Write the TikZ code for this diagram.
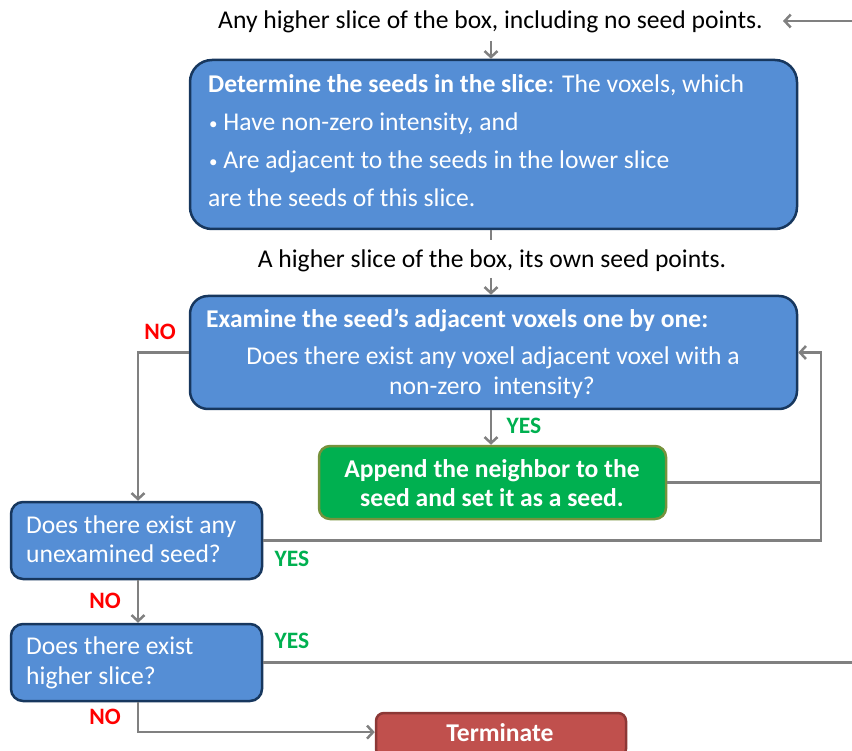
\documentclass[tikz,border=0pt]{standalone}
\usepackage{fontspec}
\setmainfont{Carlito}
\usetikzlibrary{arrows.meta}
\definecolor{bluefill}{RGB}{85,142,213}
\definecolor{bluebd}{RGB}{23,55,94}
\definecolor{greenfill}{RGB}{0,176,80}
\definecolor{greenbd}{RGB}{118,146,60}
\definecolor{redfill}{RGB}{192,80,77}
\definecolor{redbd}{RGB}{140,56,54}
\definecolor{conn}{RGB}{128,128,128}
\definecolor{nored}{RGB}{255,0,0}
\definecolor{yesgreen}{RGB}{0,176,80}
\newcommand{\smbullet}{{\fontsize{17}{17}\selectfont\raisebox{1pt}{•}}}
\begin{document}
\begin{tikzpicture}[x=1pt,y=-1pt,
  txt/.style={inner sep=0pt, font=\fontsize{25.6}{30}\selectfont},
  wtxt/.style={txt, text=white},
  boxstyle/.style={draw=bluebd, fill=bluefill, line width=2.5pt, inner sep=0pt},
  arr/.style={draw=conn, line width=2.5pt, -{Straight Barb[length=6pt,width=13pt]}},
  ln/.style={draw=conn, line width=2.5pt},
  nolbl/.style={inner sep=0pt, text=nored, font=\fontsize{23.5}{26}\selectfont\bfseries},
  yeslbl/.style={inner sep=0pt, text=yesgreen, font=\fontsize{23.5}{26}\selectfont\bfseries}
]
\useasboundingbox (0,0) rectangle (852,751);
\clip (0,0) rectangle (852,751);

% boxes
\node[boxstyle, rounded corners=22pt, minimum width=607pt, minimum height=169pt] (box1) at (493.5,144.5) {};
\node[boxstyle, rounded corners=18pt, minimum width=607pt, minimum height=113pt] (box2) at (493.5,352.5) {};
\node[draw=greenbd, fill=greenfill, line width=2.5pt, inner sep=0pt, rounded corners=11pt, minimum width=347pt, minimum height=73pt] (green) at (492.5,482.5) {};
\node[boxstyle, rounded corners=12pt, minimum width=251pt, minimum height=77pt] (box3) at (136.5,540.5) {};
\node[boxstyle, rounded corners=12pt, minimum width=251pt, minimum height=77pt] (box4) at (136.5,662.5) {};
\node[draw=redbd, fill=redfill, line width=2.5pt, inner sep=0pt, rounded corners=8pt, minimum width=250pt, minimum height=44pt] (term) at (501,735) {};

% free texts
\node[txt, anchor=base] (top) at (490.5,29) {Any higher slice of the box, including no seed points.};
\node[txt, anchor=base] (mid) at (492,268) {A higher slice of the box, its own seed points.};

% box1 text
\node[wtxt, anchor=base west] (b1a) at (208,93) {\textbf{Determine the seeds in the slice}: The voxels, which};
\node[wtxt, anchor=base west] (b1b) at (209,131) {\smbullet\ Have non-zero intensity, and};
\node[wtxt, anchor=base west] (b1c) at (209,169) {\smbullet\ Are adjacent to the seeds in the lower slice};
\node[wtxt, anchor=base west] (b1d) at (208,207) {are the seeds of this slice.};

% box2 text
\node[wtxt, anchor=base west] (b2a) at (206,328) {\textbf{Examine the seed’s adjacent voxels one by one:}};
\node[wtxt, anchor=base] (b2b) at (493,365) {Does there exist any voxel adjacent voxel with a};
\node[wtxt, anchor=base] (b2c) at (492,395) {non-zero\ \ intensity?};

% green text
\node[wtxt, anchor=base, font=\fontsize{25.6}{30}\selectfont\bfseries] (g1) at (492,477) {Append the neighbor to the};
\node[wtxt, anchor=base, font=\fontsize{25.6}{30}\selectfont\bfseries] (g2) at (492,506) {seed and set it as a seed.};

% box3/box4 text
\node[wtxt, anchor=base west] (b3a) at (26,533) {Does there exist any};
\node[wtxt, anchor=base west] (b3b) at (26,562) {unexamined seed?};
\node[wtxt, anchor=base west] (b4a) at (26,654) {Does there exist};
\node[wtxt, anchor=base west] (b4b) at (26,684) {higher slice?};

% terminate text
\node[wtxt, anchor=base, font=\fontsize{25.6}{30}\selectfont\bfseries] (tt) at (500,741) {Terminate};

% labels
\node[nolbl] (no1) at (160,332) {NO};
\node[yeslbl] (yes1) at (524,426) {YES};
\node[yeslbl] (yes2) at (292,559) {YES};
\node[nolbl] (no2) at (105,601) {NO};
\node[yeslbl] (yes3) at (292,641) {YES};
\node[nolbl] (no3) at (105,717) {NO};

% coordinates
\coordinate (rin) at (852,21);
\coordinate (topin) at (783,21);
\coordinate (rx) at (821,352.5);
\coordinate (out4) at (852,662.5);
\coordinate (c1) at (491,41);
\coordinate (c2) at (491,240);
\coordinate (c3) at (491,278);

% connectors
\draw[arr] (rin) -- (topin);
\draw[arr] (c1) -- (c1 |- box1.north);
\draw[ln] (c1 |- box1.south) -- (c2);
\draw[arr] (c3) -- (c3 |- box2.north);
\draw[arr] (box2.west) -| ([xshift=1.5pt]box3.north);
\draw[arr] (c3 |- box2.south) -- (c3 |- green.north);
\draw[ln] (green.east) -- (green.east -| rx);
\draw[arr] (box3.east) -| (rx) -- (box2.east);
\draw[arr] ([xshift=1.5pt]box3.south) -- ([xshift=1.5pt]box4.north);
\draw[ln] (box4.east) -- (out4);
\draw[arr] ([xshift=1.5pt]box4.south) |- (term.west |- tt.center);
\end{tikzpicture}
\end{document}
